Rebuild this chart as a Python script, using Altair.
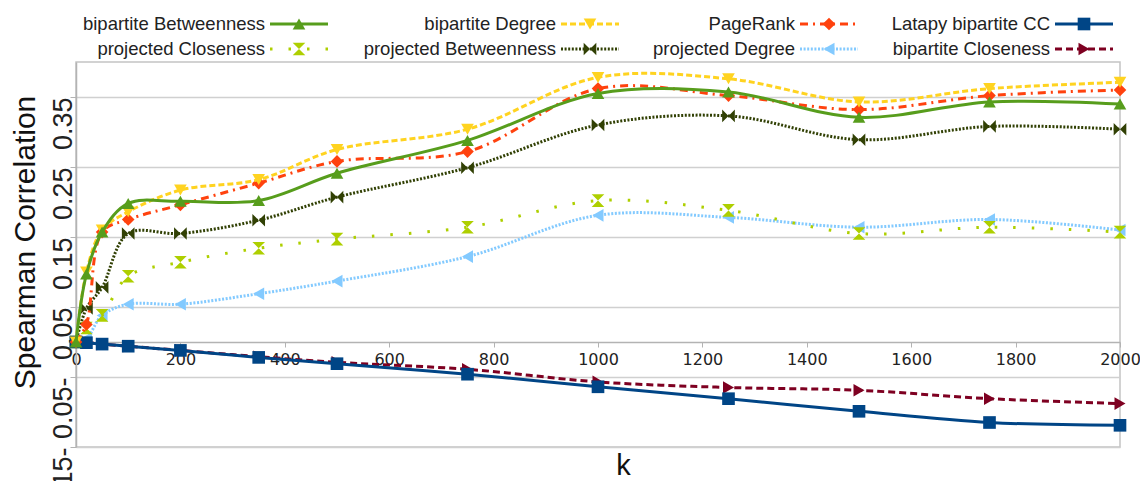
import altair as alt
import pandas as pd

# ---- data ----
K = [0, 20, 50, 100, 200, 350, 500, 750, 1000, 1250, 1500, 1750, 2000]

bip_betweenness = [0.0, 0.097, 0.157, 0.198, 0.201, 0.202, 0.241, 0.288, 0.355, 0.357, 0.321, 0.343, 0.340]
bip_degree = [0.0, 0.100, 0.160, 0.186, 0.217, 0.232, 0.275, 0.304, 0.378, 0.376, 0.343, 0.362, 0.371]
pagerank = [0.0, 0.025, 0.157, 0.175, 0.196, 0.227, 0.258, 0.272, 0.362, 0.352, 0.332, 0.352, 0.360]
latapy_cc = [0.0, -0.001, -0.003, -0.006, -0.012, -0.022, -0.031, -0.046, -0.064, -0.081, -0.099, -0.115, -0.119]
proj_closeness = [0.0, 0.020, 0.038, 0.094, 0.114, 0.134, 0.147, 0.164, 0.202, 0.188, 0.155, 0.164, 0.157]
proj_betweenness = [0.0, 0.048, 0.078, 0.155, 0.155, 0.174, 0.207, 0.249, 0.310, 0.323, 0.289, 0.308, 0.304]
proj_degree = [0.0, 0.005, 0.038, 0.054, 0.054, 0.069, 0.087, 0.122, 0.181, 0.178, 0.164, 0.175, 0.160]
bip_closeness = [0.0, -0.001, -0.003, -0.006, -0.012, -0.021, -0.029, -0.039, -0.057, -0.065, -0.069, -0.081, -0.088]

NAMES = ["bipartite Betweenness", "bipartite Degree", "PageRank", "Latapy bipartite CC",
         "projected Closeness", "projected Betweenness", "projected Degree", "bipartite Closeness"]
VALUES = [bip_betweenness, bip_degree, pagerank, latapy_cc,
          proj_closeness, proj_betweenness, proj_degree, bip_closeness]

Y_TICKS = [-0.15, -0.05, 0.05, 0.15, 0.25, 0.35]
X_TICKS = [0, 200, 400, 600, 800, 1000, 1200, 1400, 1600, 1800, 2000]

# ---- styles ----
BOWTIE = "M-1,-1L0,0L-1,1Z M1,-1L0,0L1,1Z"
HOURGLASS = "M-1,-1L1,-1L0,0Z M-1,1L1,1L0,0Z"
COLORS = ["#579D1C", "#FFD320", "#FF420E", "#004586", "#AECF00", "#314004", "#83CAFF", "#7E0021"]
DASHES = [[1, 0], [6, 3], [8, 5, 2, 5], [1, 0], [2.5, 16], [2, 1.6], [2, 1.6], [7, 4]]
SHAPES = ["triangle-up", "triangle-down", "diamond", "square", HOURGLASS, BOWTIE, "triangle-left", "triangle-right"]
DRAW_ORDER = [6, 4, 5, 7, 3, 2, 1, 0]
MSIZE = 160

W, H = 1044, 385
LEG_COL_X = [189, 480, 719, 974]   # right end of each legend column's labels (px from plot left)
LEG_ROW_Y = [-38, -13]             # legend rows (px above plot top)

FONT = "Liberation Sans"
NARROW = "Liberation Sans Narrow, Liberation Sans"

# ---- main chart ----
rows = []
for name, vals in zip(NAMES, VALUES):
    for k, v in zip(K, vals):
        rows.append({"series": name, "k": k, "v": v})
df = pd.DataFrame(rows)

x_enc = alt.X("k:Q", scale=alt.Scale(domain=[0, 2000], nice=False, zero=False),
              axis=alt.Axis(values=X_TICKS, format="d", offset=-105, grid=False, labelFlush=False,
                            labelOverlap=False, title="k", titleX=547, titleY=123,
                            titleBaseline="middle", titleAlign="center",
                            titleFontSize=29, titleFont=FONT, titleFontWeight="normal",
                            titleColor="#111", labelFont="DejaVu Sans", labelFontSize=16,
                            labelColor="#222", labelPadding=4, tickSize=5,
                            tickColor="#b3b3b3", domainColor="#b3b3b3", domainWidth=1.5))
y_enc = alt.Y("v:Q", scale=alt.Scale(domain=[-0.15, 0.40], nice=False, zero=False),
              axis=alt.Axis(values=Y_TICKS, grid=True, gridColor="#d0d0d0", gridWidth=1.5,
                            labelExpr="datum.value < 0 ? format(-datum.value, '.2f') + '-' : format(datum.value, '.2f')",
                            labelAngle=270, labelAlign="right", labelBaseline="alphabetic",
                            labelFont=NARROW, labelFontSize=27, labelColor="#222",
                            labelPadding=-1, tickSize=6, tickColor="#b3b3b3",
                            domainColor="#b3b3b3", domainWidth=1.5,
                            title="Spearman Correlation", titleAngle=270, titleX=-51, titleY=180,
                            titleBaseline="middle", titleAlign="center", titleFont=FONT,
                            titleFontSize=30, titleFontWeight="normal", titleColor="#111"))

layers = []
base = alt.Chart(df)
for i in DRAW_ORDER:
    name = NAMES[i]
    sub = base.transform_filter(alt.datum.series == name)
    line_kwargs = dict(color=COLORS[i], strokeWidth=3, interpolate="catmull-rom")
    if DASHES[i] != [1, 0]:
        line_kwargs["strokeDash"] = DASHES[i]
    layers.append(sub.mark_line(**line_kwargs).encode(x=x_enc, y=y_enc))
    layers.append(sub.mark_point(shape=SHAPES[i], filled=True, size=MSIZE, color=COLORS[i],
                                 opacity=1).encode(x=x_enc, y=y_enc))
main = alt.layer(*layers)

# ---- legend (symbols right of right-aligned labels, above the plot) ----
leg_rows = []
for idx, name in enumerate(NAMES):
    r, c = divmod(idx, 4)
    ax = LEG_COL_X[c]
    leg_rows.append({"series": name, "tx": ax, "lx1": ax + 5, "lx2": ax + 63,
                     "mx": ax + 34, "y": LEG_ROW_Y[r]})
ldf = pd.DataFrame(leg_rows)

lx = alt.Scale(domain=[0, W])
ly = alt.Scale(domain=[0, H], reverse=True)
col_enc = alt.Color("series:N", scale=alt.Scale(domain=NAMES, range=COLORS), legend=None)
lbase = alt.Chart(ldf)
leg_text = lbase.mark_text(align="right", baseline="middle", font=FONT, fontSize=18.5,
                           color="#222").encode(
    x=alt.X("tx:Q", scale=lx, axis=None), y=alt.Y("y:Q", scale=ly, axis=None), text="series:N")
leg_line = lbase.mark_rule(strokeWidth=3).encode(
    x=alt.X("lx1:Q", scale=lx, axis=None), x2="lx2:Q",
    y=alt.Y("y:Q", scale=ly, axis=None), color=col_enc,
    strokeDash=alt.StrokeDash("series:N", scale=alt.Scale(domain=NAMES, range=DASHES), legend=None))
leg_pt = lbase.mark_point(filled=True, size=MSIZE, opacity=1).encode(
    x=alt.X("mx:Q", scale=lx, axis=None), y=alt.Y("y:Q", scale=ly, axis=None), color=col_enc,
    shape=alt.Shape("series:N", scale=alt.Scale(domain=NAMES, range=SHAPES), legend=None))
legend = alt.layer(leg_text, leg_line, leg_pt)

chart = alt.layer(main, legend).resolve_scale(
    x="independent", y="independent").properties(
    width=W, height=H,
    autosize=alt.AutoSizeParams(type="none"),
    padding={"left": 68, "top": 54, "right": 20, "bottom": 34},
).configure(background="white").configure_view(stroke="#c4c4c4", strokeWidth=1.5)

chart.save("out.html", embed_options={"renderer": "svg", "actions": False})
